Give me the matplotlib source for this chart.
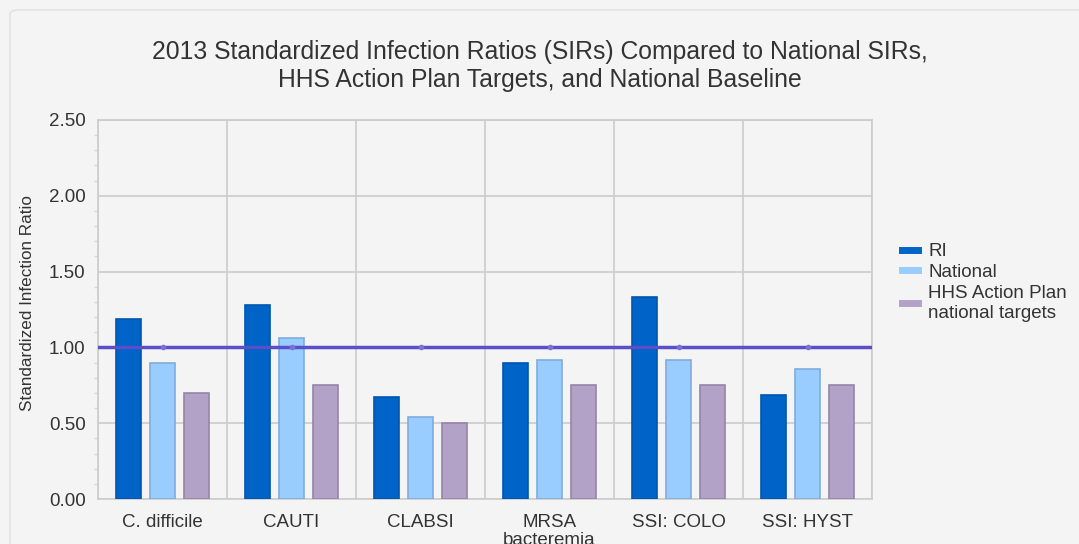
import matplotlib
matplotlib.use("Agg")
import matplotlib.pyplot as plt
from matplotlib.patches import FancyBboxPatch
from matplotlib.lines import Line2D
import numpy as np

plt.rcParams['font.family'] = ['Liberation Sans', 'DejaVu Sans']

categories = ["C. difficile", "CAUTI", "CLABSI", "MRSA\nbacteremia", "SSI: COLO", "SSI: HYST"]
ri = [1.185, 1.28, 0.67, 0.90, 1.33, 0.685]
national = [0.90, 1.06, 0.54, 0.92, 0.92, 0.86]
hhs_targets = [0.70, 0.75, 0.50, 0.75, 0.75, 0.75]
baseline = [1.0, 1.0, 1.0, 1.0, 1.0, 1.0]
series_names = ["RI", "National", "HHS Action Plan\nnational targets"]
yticks = [0.0, 0.5, 1.0, 1.5, 2.0, 2.5]

bg = "#f4f4f4"
fig = plt.figure(figsize=(10.79, 5.44), dpi=100, facecolor=bg)
fig.patches.append(FancyBboxPatch((10/1079, -20/544), 1100/1079, 554/544,
                                  boxstyle="round,pad=0,rounding_size=0.008",
                                  transform=fig.transFigure, facecolor=bg,
                                  edgecolor="#e2e2e2", linewidth=1.2, zorder=-1))

ax = fig.add_axes([98/1079, 1 - 499/544, (872-98)/1079, (499-120)/544])
ax.set_facecolor(bg)

x = np.arange(len(categories))
off = 0.264
w = 0.2
colors = ["#0063c8", "#99ccff", "#b3a2c7"]
edges = ["#0056ad", "#80acdb", "#9585a6"]
for i, (vals, c, e) in enumerate(zip([ri, national, hhs_targets], colors, edges)):
    ax.bar(x + (i - 1) * off, vals, width=w, color=c, edgecolor=e, linewidth=1.2, zorder=3)

ax.plot(np.concatenate(([-0.5], x, [len(categories) - 0.5])),
        [baseline[0]] + baseline + [baseline[-1]], color="#5a4fc8", linewidth=2.5, zorder=4)
ax.plot(x, baseline, linestyle="none", marker="o", markersize=3, color="#7a70d8", zorder=5)

ax.set_xlim(-0.5, len(categories) - 0.5)
ax.set_ylim(0, 2.5)
ax.set_yticks(yticks)
ax.set_yticklabels([f"{v:.2f}" for v in yticks], fontsize=13.5, color="#333333")
ax.set_yticks(np.arange(0, 2.51, 0.1), minor=True)
ax.set_xticks(x)
ax.set_xticklabels(categories, fontsize=13.5, color="#333333", linespacing=1.05)
ax.set_xticks(np.arange(-0.5, len(categories), 1.0), minor=True)
ax.tick_params(axis='x', which='both', length=0, pad=11)
ax.tick_params(axis='y', which='major', length=0, pad=9)
ax.tick_params(axis='y', which='minor', length=3, color="#d8d8d8", width=1)
ax.grid(True, axis='y', which='major', color="#cccccc", linewidth=1.2, zorder=0)
ax.grid(True, axis='x', which='minor', color="#cccccc", linewidth=1.2, zorder=0)
for s in ax.spines.values():
    s.set_color("#cccccc")
    s.set_linewidth(1.2)

ax.set_ylabel("Standardized Infection Ratio", fontsize=12.3, color="#333333", va="center")
ax.yaxis.set_label_coords((28 - 98) / 774, (499 - 303.5) / 379)

fig.text(540/1079, 1 - 52/544, "2013 Standardized Infection Ratios (SIRs) Compared to National SIRs,",
         ha="center", va="center", fontsize=17.8, color="#333333")
fig.text(540/1079, 1 - 80/544, "HHS Action Plan Targets, and National Baseline",
         ha="center", va="center", fontsize=17.8, color="#333333")

handles = [Line2D([0], [0], color=c, linewidth=5) for c in colors]
leg = fig.legend(handles, series_names, loc="upper left", bbox_to_anchor=(887/1079, 1 - 228/544),
                 frameon=False, fontsize=13.5, handlelength=0.85, handletextpad=0.55,
                 labelspacing=0.2, labelcolor="#333333", borderpad=0.3)
for t in leg.get_texts():
    t.set_linespacing(1.22)

fig.savefig("out.png", dpi=100, facecolor=bg)
